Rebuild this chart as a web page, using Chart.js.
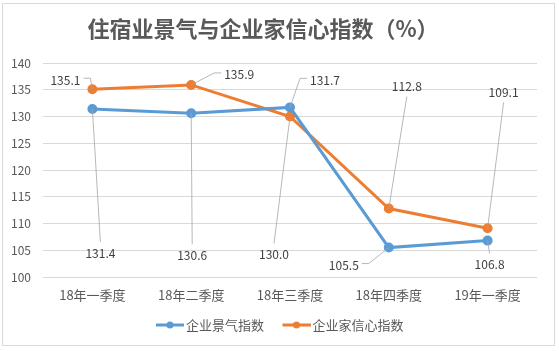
<!DOCTYPE html>
<html><head><meta charset="utf-8">
<script src="https://cdn.jsdelivr.net/npm/chart.js@4/dist/chart.umd.min.js"></script>
<style>html,body{margin:0;padding:0;background:#fff}</style>
</head><body>
<canvas id="c" width="559" height="351" style="display:block;width:559px;height:351px"></canvas>
<script>
const categories = ['18年一季度','18年二季度','18年三季度','18年四季度','19年一季度'];
const businessIndex = [131.4, 130.6, 131.7, 105.5, 106.8];
const confidenceIndex = [135.1, 135.9, 130.0, 112.8, 109.1];
const seriesNames = ['企业景气指数', '企业家信心指数'];
const yMin = 100, yMax = 140, yStep = 5;
const titleText = '住宿业景气与企业家信心指数（%）';
// data label offsets from each point, in pixels [dx, dy]
const businessLabelOffsets = [[8,144],[1,142],[35,-27],[-45,18],[2,24]];
const confidenceLabelOffsets = [[-27,-9],[48,-10],[-16,138],[18,-122],[16,-136]];

const FAMILY = '"Noto Sans CJK SC","Noto Sans",sans-serif';
const BLUE = '#5B9BD5', ORANGE = '#ED7D31';

function marker(color){
  const c = document.createElement('canvas'); c.width = 39; c.height = 10;
  const g = c.getContext('2d');
  g.strokeStyle = color; g.lineWidth = 3;
  g.beginPath(); g.moveTo(11,5); g.lineTo(39,5); g.stroke();
  g.fillStyle = color; g.beginPath(); g.arc(25,5,3.5,0,Math.PI*2); g.fill();
  return c;
}
const markers = [marker(BLUE), marker(ORANGE)];
const offsets = [businessLabelOffsets, confidenceLabelOffsets];

const framePlugin = {
  id:'frame',
  beforeDraw(chart){
    const ctx = chart.ctx; ctx.save();
    ctx.fillStyle = '#fff'; ctx.fillRect(0,0,chart.width,chart.height);
    ctx.strokeStyle = '#D9D9D9'; ctx.lineWidth = 1;
    ctx.strokeRect(2.5,3.5,552,342);
    ctx.font = 'bold 22px ' + FAMILY; ctx.fillStyle = '#595959';
    ctx.textAlign = 'center'; ctx.textBaseline = 'middle';
    ctx.fillText(titleText, 263, 29);
    ctx.restore();
  }
};

const labelPlugin = {
  id:'dlabels',
  afterDatasetsDraw(chart){
    const ctx = chart.ctx; ctx.save();
    ctx.font = '12px ' + FAMILY;
    chart.data.datasets.forEach((ds, di) => {
      const meta = chart.getDatasetMeta(di);
      meta.data.forEach((pt, i) => {
        const [dx, dy] = offsets[di][i];
        const cx = pt.x + dx, cy = pt.y + dy;
        const txt = ds.data[i].toFixed(1);
        const w = ctx.measureText(txt).width;
        ctx.strokeStyle = '#A6A6A6'; ctx.lineWidth = 0.8;
        ctx.beginPath();
        if (Math.abs(dy) > Math.abs(dx)) {
          const ey = dy > 0 ? cy - 11 : cy + 10;
          ctx.moveTo(pt.x, pt.y); ctx.lineTo(cx, ey);
        } else {
          const s = dx > 0 ? -1 : 1;
          const ex1 = cx + s*(w/2 + 3), ex2 = cx + s*(w/2 + 10);
          ctx.moveTo(pt.x, pt.y); ctx.lineTo(ex2, cy - 2); ctx.lineTo(ex1, cy - 2);
        }
        ctx.stroke();
        ctx.fillStyle = '#404040'; ctx.textAlign = 'center'; ctx.textBaseline = 'middle';
        ctx.fillText(txt, cx, cy);
      });
    });
    ctx.restore();
  }
};

new Chart(document.getElementById('c'), {
  type:'line',
  data:{
    labels: categories,
    datasets:[
      {label:seriesNames[0], data:businessIndex, borderColor:BLUE, backgroundColor:BLUE,
       borderWidth:3, pointRadius:3.5, pointBackgroundColor:BLUE, pointBorderColor:BLUE, tension:0},
      {label:seriesNames[1], data:confidenceIndex, borderColor:ORANGE, backgroundColor:ORANGE,
       borderWidth:3, pointRadius:3.5, pointBackgroundColor:ORANGE, pointBorderColor:ORANGE, tension:0}
    ]
  },
  options:{
    responsive:false, animation:false, devicePixelRatio:1,
    layout:{padding:{left:0, right:6, top:63, bottom:9.5}},
    plugins:{
      title:{display:false},
      tooltip:{enabled:false},
      legend:{position:'bottom',
        labels:{usePointStyle:true, pointStyleWidth:30, padding:12, color:'#595959',
          font:{size:13, family:FAMILY},
          generateLabels(chart){
            const items = Chart.defaults.plugins.legend.labels.generateLabels(chart);
            items.forEach((it,i)=>{it.pointStyle = markers[i];});
            return items;
          }}}
    },
    scales:{
      x:{offset:true, grid:{display:false, drawTicks:false}, border:{display:false},
         ticks:{padding:10, color:'#595959', font:{size:13, family:FAMILY}, maxRotation:0},
         afterFit(s){ s.height = 29.5; }},
      y:{min:yMin, max:yMax, border:{display:false},
         grid:{color:'#D9D9D9', drawTicks:false},
         ticks:{stepSize:yStep, padding:12, color:'#595959', font:{size:12, family:FAMILY}},
         afterFit(s){ s.width = 43; }},
      yRight:{position:'right', display:true, border:{display:false},
         grid:{display:false, drawTicks:false}, ticks:{display:false},
         afterFit(s){ s.width = 16; }}
    }
  },
  plugins:[framePlugin, labelPlugin]
});
</script>
</body></html>
